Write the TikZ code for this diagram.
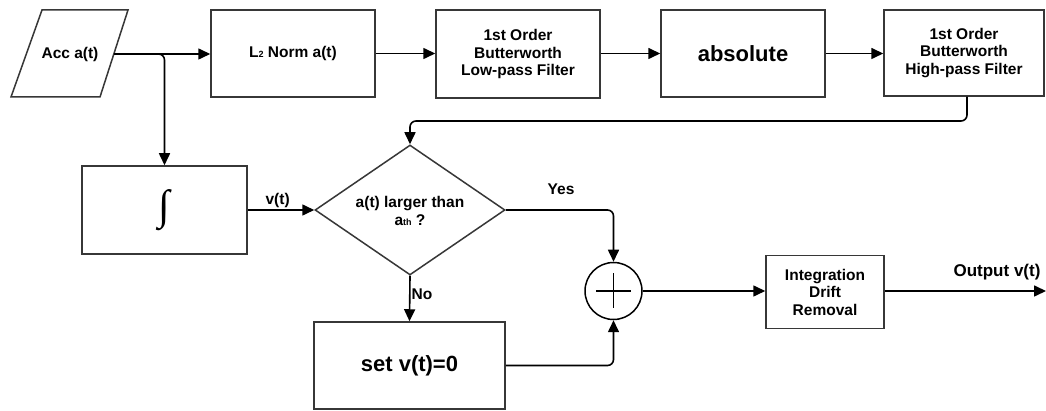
\documentclass[tikz,border=0pt]{standalone}
\usepackage{fontspec}
\setmainfont{Liberation Sans}
\newfontfamily\intfont{Liberation Serif}
\usetikzlibrary{arrows.meta,shapes.geometric,calc}
\definecolor{boxline}{RGB}{55,55,55}
\newcommand{\basefont}{\fontsize{15.5}{17.5}\selectfont\bfseries}
\newcommand{\bigfont}{\fontsize{22}{26}\selectfont\bfseries}
\newcommand{\subfont}{\fontsize{9}{9}\selectfont\bfseries}
\begin{document}
\begin{tikzpicture}[x=1pt,y=-1pt,
  every node/.style={font=\basefont, text=black},
  blockbox/.style={draw=boxline, line width=1.5pt, rectangle, inner sep=0pt, align=center},
  decision/.style={draw=boxline, line width=1.5pt, diamond, inner sep=0pt, minimum width=190pt, minimum height=130pt},
  sumnode/.style={draw=black, line width=1.5pt, circle, inner sep=0pt, minimum size=57pt},
  arr/.style={draw=black, line width=1.6pt, -{Triangle[length=12pt,width=11pt]}},
  lbl/.style={inner sep=1pt}
]
\useasboundingbox[fill=white] (0,0) rectangle (1046,411);

% input parallelogram
\draw[boxline, line width=1.5pt] (42,10) -- (128,10) -- (100,97) -- (11,97) -- cycle;
\node (acc) at (70,54) {Acc a(t)};
\coordinate (accR) at (114,54);

% top processing chain
\node[blockbox, minimum width=164pt, minimum height=87pt] (l2) at (293,53.5)
  {L{\subfont 2} Norm a(t)};
\node[blockbox, minimum width=164pt, minimum height=88pt] (lpf) at (518,54)
  {1st Order\\Butterworth\\Low-pass Filter};
\node[blockbox, minimum width=164pt, minimum height=87pt, font=\bigfont] (abs) at (743,53.5)
  {absolute};
\node[blockbox, minimum width=160pt, minimum height=86pt] (hpf) at (964,53)
  {1st Order\\Butterworth\\High-pass Filter};

% integration and decision
\node[blockbox, minimum width=165pt, minimum height=88pt] (int) at (164.5,210) {};
\node (intsym) at (164.5,210) {\intfont\fontsize{42}{44}\selectfont ∫};
\node[decision] (dec) at (410,210) {};
\node[align=center] (dectxt) at (410,211)
  {a(t) larger than\\a{\subfont th} ?};
\node[blockbox, minimum width=191pt, minimum height=87pt, font=\bigfont] (set) at (409.5,365.5)
  {set v(t)=0};

% summation and drift removal
\node[sumnode] (sum) at (613.5,291) {};
\draw[black, line width=1.6pt] ($(sum.center)+(-17.5,0)$) -- ($(sum.center)+(17.5,0)$)
  ($(sum.center)+(0,-17.5)$) -- ($(sum.center)+(0,17.5)$);
\node[blockbox, minimum width=118pt, minimum height=73pt] (idr) at (825,292)
  {Integration\\Drift\\Removal};
\coordinate (out) at (1046,291);
\coordinate (fb) at (410,121);

% connectors
\draw[arr] (accR) -- (l2.west |- accR);
\draw[arr] (l2.east) -- (lpf.west |- l2.east);
\draw[arr] (lpf.east |- abs.east) -- (abs.west);
\draw[arr] (abs.east) -- (hpf.west |- abs.east);
\draw[arr, rounded corners=6pt] (accR) -| (int.north);
\draw[arr, rounded corners=6pt] (hpf.south -| 967,0) |- (fb) -- (dec.north);
\draw[arr] (int.east) -- node[lbl, above, pos=0.45] (vt) {v(t)} (dec.west);
\draw[arr, rounded corners=6pt] (dec.east) -| (sum.north);
\node[lbl] (yes) at (561,189) {Yes};
\draw[arr] (dec.south) -- node[lbl, right, pos=0.4] (no) {No} (set.north);
\draw[arr, rounded corners=6pt] (set.east) -| (sum.south);
\draw[arr] (sum.east) -- (idr.west |- sum.east);
\draw[arr] (idr.east |- sum.east) -- (out);
\node[lbl, font=\fontsize{17}{20}\selectfont\bfseries] (outlbl) at (997,272) {Output v(t)};
\end{tikzpicture}
\end{document}
